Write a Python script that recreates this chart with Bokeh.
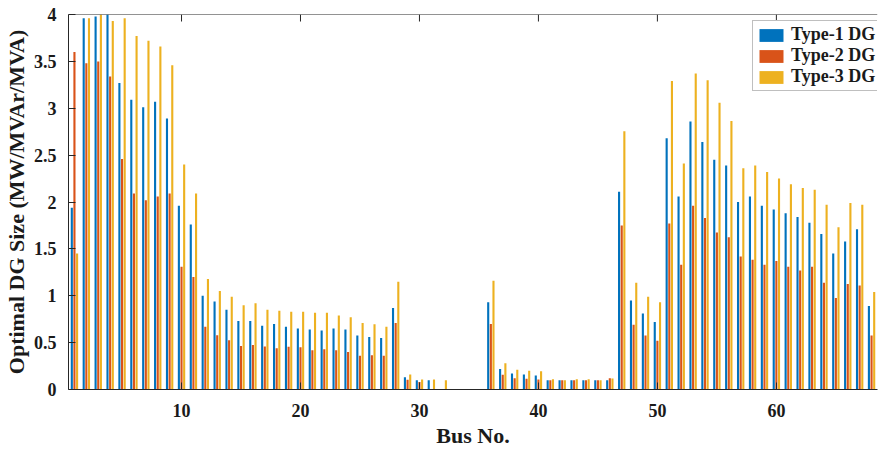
import math
from bokeh.plotting import figure
from bokeh.models import (ColumnDataSource, FixedTicker, NumeralTickFormatter,
                          Range1d, Span)
from bokeh.transform import dodge
from bokeh.embed import file_html
from bokeh.resources import INLINE

# ---------------- data ----------------
bus = list(range(1, 69))

type1 = [1.94, 3.96, 3.98, 4.05, 3.27, 3.09, 3.01, 3.07, 2.89, 1.96,
         1.76, 1.00, 0.94, 0.85, 0.73, 0.73, 0.68, 0.70, 0.67, 0.65,
         0.64, 0.63, 0.65, 0.64, 0.575, 0.56, 0.55, 0.87, 0.13, 0.10,
         0.10, 0.0, 0.0, 0.0, 0.0, 0.93, 0.22, 0.17, 0.16, 0.15,
         0.10, 0.10, 0.10, 0.10, 0.10, 0.10, 2.11, 0.95, 0.81, 0.72,
         2.68, 2.06, 2.86, 2.64, 2.45, 2.39, 2.00, 2.06, 1.96, 1.92,
         1.88, 1.84, 1.78, 1.66, 1.45, 1.58, 1.71, 0.89]

type2 = [3.60, 3.48, 3.50, 3.34, 2.46, 2.09, 2.02, 2.06, 2.09, 1.31,
         1.20, 0.67, 0.58, 0.525, 0.465, 0.475, 0.46, 0.44, 0.455, 0.45,
         0.42, 0.43, 0.42, 0.40, 0.36, 0.365, 0.36, 0.71, 0.105, 0.08,
         0.0, 0.0, 0.0, 0.0, 0.0, 0.70, 0.157, 0.12, 0.114, 0.106,
         0.10, 0.10, 0.10, 0.10, 0.10, 0.12, 1.75, 0.69, 0.575, 0.52,
         1.77, 1.33, 1.96, 1.83, 1.675, 1.625, 1.42, 1.385, 1.33, 1.37,
         1.31, 1.27, 1.31, 1.14, 0.975, 1.125, 1.11, 0.575]

type3 = [1.45, 3.96, 4.02, 3.93, 3.96, 3.77, 3.72, 3.66, 3.46, 2.40,
         2.09, 1.18, 1.05, 0.99, 0.90, 0.92, 0.85, 0.84, 0.83, 0.83,
         0.82, 0.82, 0.79, 0.77, 0.71, 0.695, 0.67, 1.15, 0.16, 0.106,
         0.106, 0.10, 0.0, 0.0, 0.0, 1.16, 0.28, 0.21, 0.20, 0.195,
         0.11, 0.10, 0.11, 0.11, 0.10, 0.117, 2.755, 1.14, 0.99, 0.93,
         3.29, 2.41, 3.37, 3.30, 3.06, 2.865, 2.36, 2.39, 2.32, 2.25,
         2.19, 2.15, 2.13, 1.97, 1.73, 1.99, 1.97, 1.04]

series_names = ["Type-1 DG", "Type-2 DG", "Type-3 DG"]
x_ticks = [10, 20, 30, 40, 50, 60]
y_ticks = [0, 0.5, 1, 1.5, 2, 2.5, 3, 3.5, 4]
x_lim = (0.5, 68.5)
y_lim = (0, 4)

# ---------------- figure ----------------
FONT = "Liberation Serif"
TXT = "#1a1a1a"
AX = "#262626"
colors = ["#0072BD", "#D95319", "#EDB120"]

src = ColumnDataSource(dict(bus=bus, t1=type1, t2=type2, t3=type3))

p = figure(width=879, height=450, output_backend="svg", toolbar_location=None,
           x_range=Range1d(*x_lim), y_range=Range1d(*y_lim),
           min_border_left=68, min_border_right=2, min_border_top=14,
           min_border_bottom=60, background_fill_color="white")

bw = 0.178
off = 0.222
for col, dx, c, name in zip(["t1", "t2", "t3"], [-off, 0.0, off], colors, series_names):
    p.vbar(x=dodge("bus", dx), top=col, width=bw, source=src,
           fill_color=c, line_color=None, legend_label=name)

p.xgrid.grid_line_color = None
p.ygrid.grid_line_color = None
p.outline_line_color = None

for ax in (p.xaxis[0], p.yaxis[0]):
    ax.major_tick_in = 7
    ax.major_tick_out = 0
    ax.minor_tick_line_color = None
    ax.axis_line_color = AX
    ax.major_tick_line_color = AX
    ax.major_label_text_font = FONT
    ax.major_label_text_font_style = "bold"
    ax.major_label_text_font_size = "18px"
    ax.major_label_text_color = TXT
    ax.axis_label_text_font = FONT
    ax.axis_label_text_font_style = "bold"
    ax.axis_label_text_font_size = "22px"
    ax.axis_label_text_color = TXT

p.xaxis[0].ticker = FixedTicker(ticks=x_ticks)
p.yaxis[0].ticker = FixedTicker(ticks=y_ticks)
p.yaxis[0].formatter = NumeralTickFormatter(format="0.[0]")
p.xaxis[0].axis_label = "Bus No."
p.yaxis[0].axis_label = "Optimal DG Size (MW/MVAr/MVA)"
p.xaxis[0].major_label_standoff = 14
p.xaxis[0].axis_label_standoff = 3
p.yaxis[0].major_label_standoff = 12
p.yaxis[0].axis_label_standoff = 2

# top box line with inward ticks (MATLAB "box on")
p.add_layout(Span(location=y_lim[1], dimension="width", line_color=AX, line_width=1))
p.ray(x=x_ticks, y=[y_lim[1]] * len(x_ticks), length=7, length_units="screen",
      angle=-math.pi / 2, line_color=AX, line_width=1)

lg = p.legend[0]
lg.location = (684, 298)
lg.margin = 0
lg.padding = 3
lg.spacing = 0
lg.glyph_width = 30
lg.glyph_height = 16
lg.label_height = 16
lg.label_standoff = 5
lg.label_text_font = FONT
lg.label_text_font_style = "bold"
lg.label_text_font_size = "18px"
lg.label_text_color = TXT
lg.border_line_color = "#7f7f7f"
lg.border_line_width = 1
lg.background_fill_color = "white"
lg.background_fill_alpha = 1.0

open("out.html", "w").write(file_html(p, INLINE))
